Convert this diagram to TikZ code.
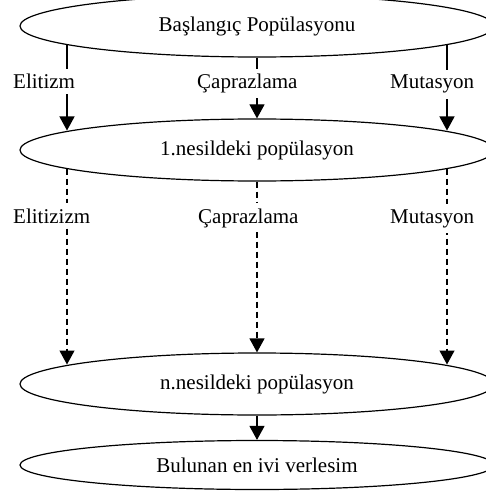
\documentclass[tikz,border=0pt]{standalone}
\usepackage{fontspec}
\setmainfont{Liberation Serif}
\usetikzlibrary{shapes.geometric,arrows.meta}
\begin{document}
\begin{tikzpicture}[x=1pt,y=-1pt,
  every node/.style={font=\fontsize{21}{25}\selectfont},
  popnode/.style={draw,ellipse,line width=1.2pt,minimum width=474pt,inner sep=0pt},
  lbl/.style={fill=white,anchor=base west,inner xsep=1pt,inner ysep=5pt},
  arr/.style={line width=1.2pt,-{Triangle[length=14pt,width=15pt]}},
  darr/.style={arr,dash pattern=on 6pt off 4pt}]
\useasboundingbox (0,0) rectangle (486,492);
\clip (0,0) rectangle (486,492);
\node[popnode,minimum height=62pt] (e1) at (257,26) {Başlangıç Popülasyonu};
\node[popnode,minimum height=62pt] (e2) at (257,150) {1.nesildeki popülasyon};
\node[popnode,minimum height=62pt] (e3) at (257,384) {n.nesildeki popülasyon};
\node[popnode,minimum height=49pt] (e4) at (257,465) {Bulunan en ivi verlesim};
% boundary points of the ellipses at the side columns
\coordinate (e1L) at (67,44.5);
\coordinate (e1R) at (447,44.5);
\coordinate (e2Lt) at (67,130.5);
\coordinate (e2Rt) at (447,130.5);
\coordinate (e2Lb) at (67,168.5);
\coordinate (e2Rb) at (447,168.5);
\coordinate (e3Lt) at (67,364.5);
\coordinate (e3Rt) at (447,364.5);
% first stage
\draw[arr] (e1L) -- (e2Lt);
\draw[arr] (e1.south) -- (e2.north);
\draw[arr] (e1R) -- (e2Rt);
% second stage
\draw[darr] (e2Lb) -- (e3Lt);
\draw[darr] (e2.south) -- (e3.north);
\draw[darr] (e2Rb) -- (e3Rt);
% last
\draw[arr] (e3.south) -- (e4.north);
% labels
\node[lbl] (l1) at (12,89) {Elitizm};
\node[lbl] (l2) at (196,89) {Çaprazlama};
\node[lbl] (l3) at (389,89) {Mutasyon};
\node[lbl] (l4) at (12,223) {Elitizizm};
\node[lbl] (l5) at (197,223) {Çaprazlama};
\node[lbl] (l6) at (389,223) {Mutasyon};
\end{tikzpicture}
\end{document}
